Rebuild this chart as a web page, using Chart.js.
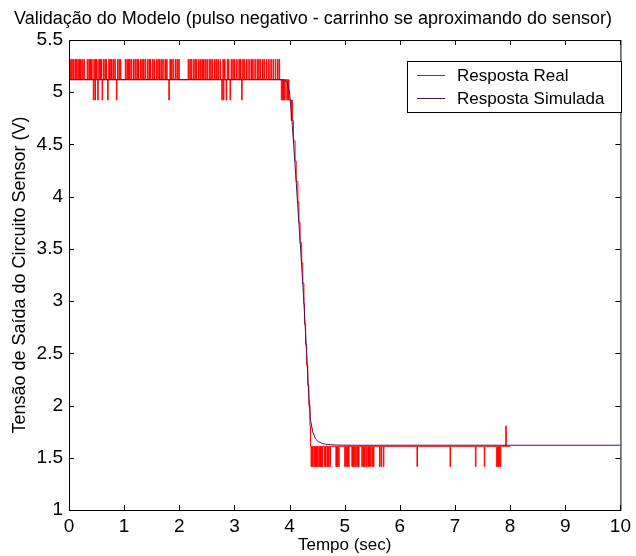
<!DOCTYPE html>
<html>
<head>
<meta charset="utf-8">
<script src="https://cdn.jsdelivr.net/npm/chart.js@4"></script>
<style>
  html, body { margin: 0; padding: 0; background: #fff; }
  #wrap { width: 636px; height: 556px; }
</style>
</head>
<body>
<div id="wrap"><canvas id="c" width="636" height="556"></canvas></div>
<script>
// níveis do sinal real (quantizado)
const levelTop = 5.315, levelHigh = 5.12, levelHighDip = 4.925;
const levelLowPeak = 1.805, levelLow = 1.61, levelLowDip = 1.415;
const realEnd = 8.0;
const descentStart = 3.94;

// picos para cima na fase alta (s)
const highUpSpikes = [0.00,0.03,0.05,0.08,0.11,0.13,0.16,0.19,0.21,0.24,0.27,0.33,0.36,0.38,0.41,0.45,0.48,0.50,0.54,0.56,0.58,0.62,0.65,0.67,0.72,0.74,0.77,0.80,0.83,0.88,0.91,0.93,1.02,1.05,1.08,1.10,1.13,1.17,1.20,1.23,1.25,1.29,1.32,1.35,1.38,1.42,1.45,1.47,1.51,1.54,1.58,1.61,1.64,1.67,1.70,1.74,1.77,1.83,1.86,1.89,1.93,1.96,1.99,2.16,2.19,2.22,2.26,2.29,2.31,2.35,2.38,2.41,2.44,2.47,2.50,2.54,2.57,2.60,2.64,2.67,2.70,2.74,2.79,2.82,2.87,2.89,2.94,2.97,3.00,3.04,3.08,3.11,3.15,3.18,3.22,3.26,3.30,3.33,3.37,3.41,3.44,3.47,3.51,3.54,3.58,3.62,3.66,3.70,3.74,3.78,3.81];
// picos para baixo na fase alta (s)
const highDownSpikes = [0.44,0.47,0.52,0.60,0.70,0.86,1.81,2.77,2.80,2.85,2.92,3.13,3.85,3.87,3.89,3.91];
// descida (degraus)
const descentT = [3.94,3.95,3.96,3.97,3.98,3.99,4.00,4.01,4.02,4.03,4.04,4.05,4.06,4.07,4.08,4.09,4.10,4.11,4.12,4.13,4.14,4.15,4.16,4.17,4.18,4.19,4.20,4.21,4.22,4.23,4.24,4.25,4.26,4.27,4.28,4.29,4.30,4.31,4.32,4.33,4.34,4.35,4.36,4.37,4.38];
const descentV = [5.12,4.925,5.12,4.925,5.12,4.925,4.925,4.925,4.925,4.73,4.925,4.73,4.73,4.535,4.535,4.535,4.34,4.34,4.145,4.145,4.145,3.95,3.95,3.755,3.755,3.56,3.56,3.56,3.365,3.365,3.17,3.17,2.975,2.78,2.78,2.585,2.585,2.39,2.39,2.195,2.195,2.0,2.0,1.805,1.61];
// picos na fase baixa (s)
const lowDownSpikes = [4.39,4.41,4.43,4.44,4.46,4.48,4.50,4.52,4.53,4.55,4.57,4.59,4.63,4.65,4.68,4.70,4.73,4.84,4.86,4.89,5.00,5.02,5.05,5.07,5.13,5.15,5.18,5.20,5.23,5.25,5.31,5.34,5.36,5.39,5.42,5.44,5.47,5.50,5.52,5.63,5.66,5.70,6.31,6.91,7.37,7.53,7.75,7.76,7.78,7.80,7.82];
const lowUpSpikes = [7.92];

// resposta simulada
const simT = [0, 3.90, 3.95, 4.00, 4.05, 4.10, 4.15, 4.20, 4.25, 4.30, 4.35, 4.38, 4.42, 4.47, 4.52, 4.58, 4.65, 4.75, 4.90, 5.20, 10];
const simV = [5.12, 5.12, 5.10, 5.00, 4.68, 4.30, 3.90, 3.50, 3.08, 2.60, 2.08, 1.86, 1.75, 1.68, 1.655, 1.64, 1.63, 1.624, 1.621, 1.62, 1.62];

const xTicks = [0, 1, 2, 3, 4, 5, 6, 7, 8, 9, 10];
const yTicks = [1, 1.5, 2, 2.5, 3, 3.5, 4, 4.5, 5, 5.5];

const titleText = 'Validação do Modelo (pulso negativo - carrinho se aproximando do sensor)';
const xTitle = 'Tempo (sec)';
const yTitle = 'Tensão de Saída do Circuito Sensor (V)';
const labels = ['Resposta Real', 'Resposta Simulada'];
const colors = ['#ff0000', '#4b1060'];

const FONT = "'Liberation Sans', Arial, sans-serif";

// monta o sinal real a partir dos eventos, só com os pontos de mudança
function buildReal() {
    const key = t => Math.round(t * 100);
    const upHi = new Set(highUpSpikes.map(key));
    const dnHi = new Set(highDownSpikes.map(key));
    const upLo = new Set(lowUpSpikes.map(key));
    const dnLo = new Set(lowDownSpikes.map(key));
    const desc = new Map(descentT.map((t, i) => [key(t), descentV[i]]));
    const startK = key(descentStart), endK = key(realEnd);
    const pts = [];
    let prev = null;
    for (let k = 0; k <= endK; k++) {
        let v;
        if (desc.has(k)) v = desc.get(k);
        else if (k < startK) v = upHi.has(k) ? levelTop : dnHi.has(k) ? levelHighDip : levelHigh;
        else v = upLo.has(k) ? levelLowPeak : dnLo.has(k) ? levelLowDip : levelLow;
        if (v !== prev || k === endK) pts.push({ x: k / 100, y: v });
        prev = v;
    }
    return pts;
}

const simData = simT.map((t, i) => ({ x: t, y: simV[i] }));

// moldura com marcas para dentro (estilo MATLAB) e legenda
const framePlugin = {
    id: 'frame',
    afterDatasetsDraw(chart) {
        const { ctx, chartArea: a, scales: { x, y } } = chart;
        ctx.save();
        ctx.strokeStyle = '#000';
        ctx.lineWidth = 1;
        ctx.strokeRect(a.left + 0.5, a.top + 0.5, a.right - a.left, a.bottom - a.top);
        const len = 5;
        ctx.beginPath();
        xTicks.forEach(v => {
            const px = Math.round(x.getPixelForValue(v)) + 0.5;
            ctx.moveTo(px, a.bottom); ctx.lineTo(px, a.bottom - len);
            ctx.moveTo(px, a.top); ctx.lineTo(px, a.top + len);
        });
        yTicks.forEach(v => {
            const py = Math.round(y.getPixelForValue(v)) + 0.5;
            ctx.moveTo(a.left, py); ctx.lineTo(a.left + len, py);
            ctx.moveTo(a.right, py); ctx.lineTo(a.right - len, py);
        });
        ctx.stroke();

        // legenda
        const bx = 407.5, by = 61.5, bw = 214, bh = 51;
        ctx.fillStyle = '#fff';
        ctx.fillRect(bx, by, bw, bh);
        ctx.strokeRect(bx, by, bw, bh);
        ctx.font = '17px ' + FONT;
        ctx.textBaseline = 'middle';
        labels.forEach((lab, i) => {
            const ly = 75.5 + i * 23;
            ctx.strokeStyle = colors[i];
            ctx.beginPath(); ctx.moveTo(417, ly); ctx.lineTo(445, ly); ctx.stroke();
            ctx.fillStyle = '#000';
            ctx.fillText(lab, 457, ly + 1);
        });
        ctx.restore();
    }
};

new Chart(document.getElementById('c'), {
    type: 'scatter',
    data: {
        datasets: [
            { label: labels[0], data: buildReal(), showLine: true, stepped: true, borderColor: colors[0], borderWidth: 1, pointRadius: 0, order: 1 },
            { label: labels[1], data: simData, showLine: true, borderColor: colors[1], borderWidth: 1, pointRadius: 0, tension: 0, order: 0 }
        ]
    },
    options: {
        responsive: false,
        animation: false,
        layout: { padding: { left: 0, right: 10, top: 0, bottom: 0 } },
        plugins: {
            legend: { display: false },
            tooltip: { enabled: false },
            title: {
                display: true, text: titleText, color: '#000',
                font: { family: FONT, size: 18, weight: 'normal' },
                padding: { top: 8, bottom: 10.4 }
            }
        },
        scales: {
            x: {
                type: 'linear', min: 0, max: 10,
                afterBuildTicks: s => { s.ticks = xTicks.map(v => ({ value: v })); },
                afterFit: s => { s.height = 46; },
                grid: { display: false, drawTicks: false },
                border: { display: false },
                ticks: { color: '#000', padding: 5, maxRotation: 0, callback: v => String(v), font: { family: FONT, size: 19 } },
                title: { display: true, text: xTitle, color: '#000', padding: { top: 1, bottom: 0 }, font: { family: FONT, size: 17 } }
            },
            y: {
                type: 'linear', min: 1, max: 5.5,
                afterBuildTicks: s => { s.ticks = yTicks.map(v => ({ value: v })); },
                afterFit: s => { s.width = 69; },
                grid: { display: false, drawTicks: false },
                border: { display: false },
                ticks: { color: '#000', padding: 6, callback: v => String(v), font: { family: FONT, size: 19 } },
                title: { display: true, text: yTitle, color: '#000', padding: { top: 9, bottom: 0 }, font: { family: FONT, size: 18 } }
            }
        }
    },
    plugins: [framePlugin]
});
</script>
</body>
</html>
